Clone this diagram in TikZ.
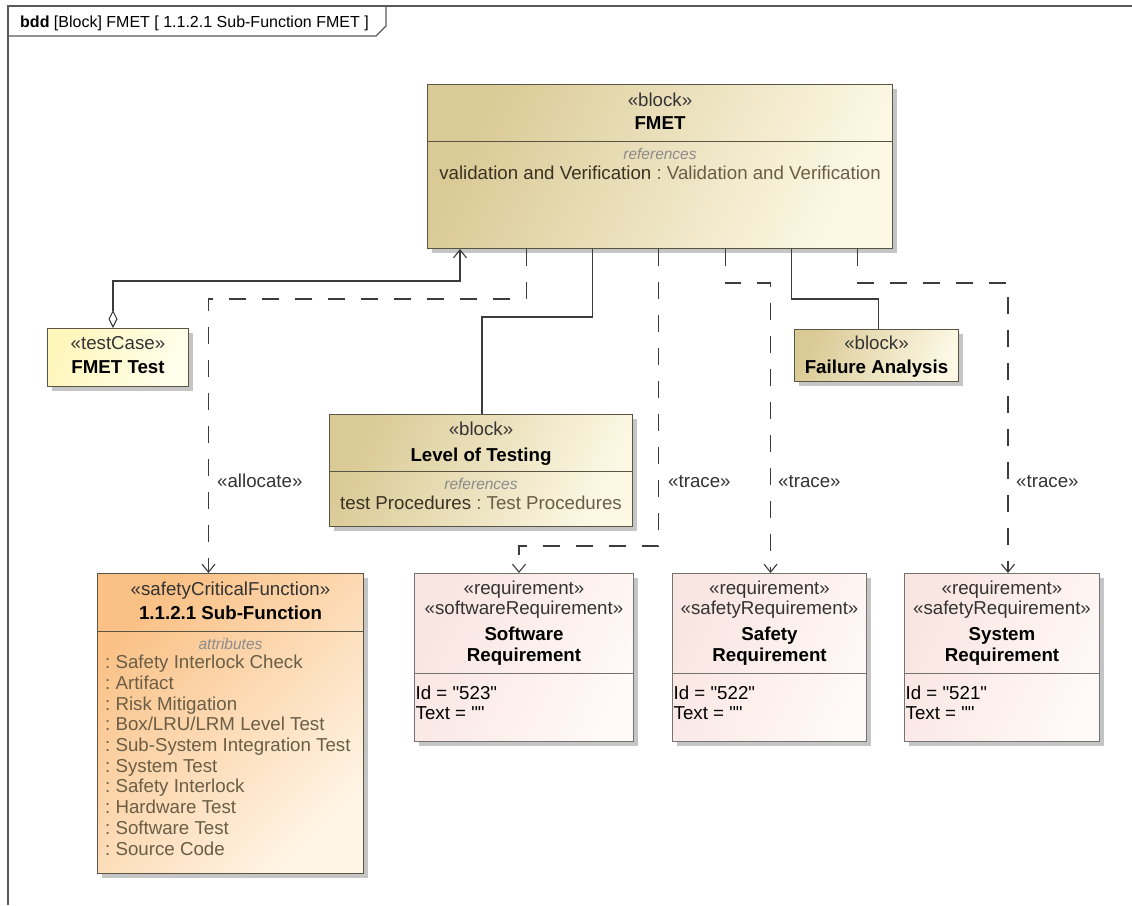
\documentclass[tikz,border=0pt]{standalone}
\usepackage{fontspec}
\setmainfont{Liberation Sans}
\usetikzlibrary{shapes,arrows.meta,positioning,calc,shadows}
\frenchspacing

\definecolor{blockdark}{HTML}{DACA96}
\definecolor{blocklight}{HTML}{FCF8E4}
\definecolor{testdark}{HTML}{FFF6BC}
\definecolor{testlight}{HTML}{FFFFEC}
\definecolor{sfcdark}{HTML}{FAC186}
\definecolor{sfclight}{HTML}{FFF5E6}
\definecolor{reqdark}{HTML}{F9E5E1}
\definecolor{reqlight}{HTML}{FFF9F7}
\definecolor{boxline}{HTML}{5A5444}
\definecolor{conn}{HTML}{3C3C3C}
\definecolor{compgray}{HTML}{8C8C8C}
\definecolor{propname}{HTML}{3A3222}
\definecolor{proptype}{HTML}{6A5E46}

\newcommand\txtsize{\fontsize{18.7}{20.7}\selectfont}
\newcommand\compsize{\fontsize{15.5}{17}\selectfont}
\newcommand\qq[1]{\textquotedbl#1\textquotedbl}

\tikzset{
    umlbox/.style={draw=boxline, line width=1pt, inner sep=0pt,
        drop shadow={shadow xshift=4pt, shadow yshift=-4pt, fill=black!45, opacity=0.5}},
    blockbox/.style={umlbox, left color=blockdark, right color=blocklight, shading angle=65},
    testbox/.style={umlbox, left color=testdark, right color=testlight, shading angle=65},
    sfcbox/.style={umlbox, left color=sfcdark, right color=sfclight, shading angle=45},
    reqbox/.style={umlbox, draw=black!55, left color=reqdark, right color=reqlight, shading angle=65},
    boxtext/.style={inner sep=0pt, text height=13.5pt, text depth=4pt, font=\txtsize},
    stereo/.style={boxtext, text=black!80},
    title/.style={boxtext, font=\txtsize\bfseries, text=black},
    comptitle/.style={boxtext, font=\compsize\itshape, text=compgray},
    attrtext/.style={boxtext, anchor=west, text=proptype},
    valtext/.style={boxtext, anchor=west, text=black},
    linelabel/.style={boxtext, anchor=west, text=black!80},
    sepline/.style={draw=boxline, line width=0.9pt},
    solidlink/.style={draw=conn, line width=1.1pt},
    trace/.style={draw=conn, line width=1.1pt, dash pattern=on 17pt off 16pt,
        -{Straight Barb[length=8pt,width=13pt]}},
    aggr/.style={draw=conn, line width=1.1pt,
        {Diamond[open,length=18pt,width=9pt]}-{Straight Barb[length=8pt,width=13pt]}},
    frameline/.style={draw=black!65, line width=1.5pt}
}

\begin{document}
\begin{tikzpicture}[x=1pt, y=-1pt]
    \useasboundingbox[fill=white] (0,0) rectangle (1132,905);
    %Frame and header tab
    %===========================================================
    \draw[frameline] (8,905) -- (8,6) -- (1132,6);
    \draw[frameline, line width=1.1pt] (8,36) -- (376,36) -- (386,26) -- (386,6);
    \node[anchor=base west, inner sep=0pt, font=\fontsize{16}{18}\selectfont] (hdr) at (20,27)
        {\textbf{bdd} [Block] FMET [ 1.1.2.1 Sub-Function FMET ]};

    %Blocks - placed at their top left corners (y goes down)%
    %===========================================================
    \node[blockbox, minimum width=465pt, minimum height=164pt, anchor=north west] (fmet) at (427,84) {};
    \node[testbox, minimum width=141pt, minimum height=58pt, anchor=north west] (fmettest) at (47,328) {};
    \node[blockbox, minimum width=303pt, minimum height=112pt, anchor=north west] (lot) at (329,414) {};
    \node[blockbox, minimum width=164pt, minimum height=52pt, anchor=north west] (fa) at (794,329) {};
    \node[sfcbox, minimum width=266pt, minimum height=300pt, anchor=north west] (sub) at (97,573) {};
    \node[reqbox, minimum width=219pt, minimum height=168pt, anchor=north west] (swreq) at (414,573) {};
    \node[reqbox, minimum width=194pt, minimum height=168pt, anchor=north west] (sfreq) at (672,573) {};
    \node[reqbox, minimum width=195pt, minimum height=168pt, anchor=north west] (sysreq) at (904,573) {};

    %FMET
    \node[stereo] (fmet_st) at ($(fmet.north)+(0,18)$) {«block»};
    \node[title] (fmet_nm) at ($(fmet.north)+(0,41)$) {FMET};
    \draw[sepline] ($(fmet.north west)+(0,57)$) -- ($(fmet.north east)+(0,57)$);
    \node[comptitle] (fmet_ref) at ($(fmet.north)+(0,71)$) {references};
    \node[boxtext] (fmet_val) at ($(fmet.north)+(0,91)$)
        {\textcolor{propname}{validation and Verification} \textcolor{proptype}{: Validation and Verification}};

    %FMET Test
    \node[stereo] (fmettest_st) at ($(fmettest.north)+(0,17)$) {«testCase»};
    \node[title] (fmettest_nm) at ($(fmettest.north)+(0,41)$) {FMET Test};

    %Level of Testing
    \node[stereo] (lot_st) at ($(lot.north)+(0,17)$) {«block»};
    \node[title] (lot_nm) at ($(lot.north)+(0,43)$) {Level of Testing};
    \draw[sepline] ($(lot.north west)+(0,57)$) -- ($(lot.north east)+(0,57)$);
    \node[comptitle] (lot_ref) at ($(lot.north)+(0,71)$) {references};
    \node[boxtext] (lot_val) at ($(lot.north)+(0,91)$)
        {\textcolor{propname}{test Procedures} \textcolor{proptype}{: Test Procedures}};

    %Failure Analysis
    \node[stereo] (fa_st) at ($(fa.north)+(0,16)$) {«block»};
    \node[title] (fa_nm) at ($(fa.north)+(0,40)$) {Failure Analysis};

    %1.1.2.1 Sub-Function
    \node[stereo] (sub_st) at ($(sub.north)+(0,18)$) {«safetyCriticalFunction»};
    \node[title] (sub_nm) at ($(sub.north)+(0,42)$) {1.1.2.1 Sub-Function};
    \draw[sepline] ($(sub.north west)+(0,58)$) -- ($(sub.north east)+(0,58)$);
    \node[comptitle] (sub_attrs) at ($(sub.north)+(0,72)$) {attributes};
    \foreach \attr [count=\i] in {Safety Interlock Check, Artifact, Risk Mitigation,
        Box/LRU/LRM Level Test, Sub-System Integration Test, System Test,
        Safety Interlock, Hardware Test, Software Test, Source Code}
        \node[attrtext] (sub_attr\i) at ($(sub.north west)+(8,{91+20.7*(\i-1)})$) {: \attr};

    %Requirements
    \foreach \req/\kind/\first/\second/\id in {swreq/softwareRequirement/Software/Requirement/523,
        sfreq/safetyRequirement/Safety/Requirement/522,
        sysreq/safetyRequirement/System/Requirement/521}{
        \node[stereo] (\req_st1) at ($(\req.north)+(0,17)$) {«requirement»};
        \node[stereo] (\req_st2) at ($(\req.north)+(0,37)$) {«\kind»};
        \node[title] (\req_nm1) at ($(\req.north)+(0,63)$) {\first};
        \node[title] (\req_nm2) at ($(\req.north)+(0,84)$) {\second};
        \draw[draw=black!55, line width=0.9pt] ($(\req.north west)+(0,100)$) -- ($(\req.north east)+(0,100)$);
        \node[valtext] (\req_id) at ($(\req.north west)+(1.5,122)$) {Id = \qq{\id}};
        \node[valtext] (\req_txt) at ($(\req.north west)+(1.5,142)$) {Text = \qq{}};
    }

    %Connectors - attachment points along the bottom of FMET%
    %===========================================================
    \foreach \k in {1,...,7}
        \coordinate (fmet_s\k) at ($(fmet.south west)+({33+66.3*(\k-1)},0)$);

    \draw[aggr] ([xshift=-5pt]fmettest.north) -- ++(0,-47) -| (fmet_s1); %FMET Test part of FMET
    \draw[trace] (fmet_s2) -- ++(0,50) -| ([xshift=-22pt]sub.north); %allocate
    \draw[solidlink] (fmet_s3) -- ++(0,68) -| ([xshift=1pt]lot.north);
    \draw[trace] (fmet_s4) -- ++(0,297) -| ([xshift=-5pt]swreq.north);
    \draw[trace] (fmet_s5) -- ++(0,34) -| ([xshift=1pt]sfreq.north);
    \draw[solidlink] (fmet_s6) -- ++(0,50) -| ([xshift=2pt]fa.north);
    \draw[trace] (fmet_s7) -- ++(0,34) -| ([xshift=6pt]sysreq.north);

    \node[linelabel] (lbl_alloc) at (217,483) {«allocate»};
    \node[linelabel] (lbl_trace1) at (668,483) {«trace»};
    \node[linelabel] (lbl_trace2) at (778,483) {«trace»};
    \node[linelabel] (lbl_trace3) at (1016,483) {«trace»};
\end{tikzpicture}
\end{document}
